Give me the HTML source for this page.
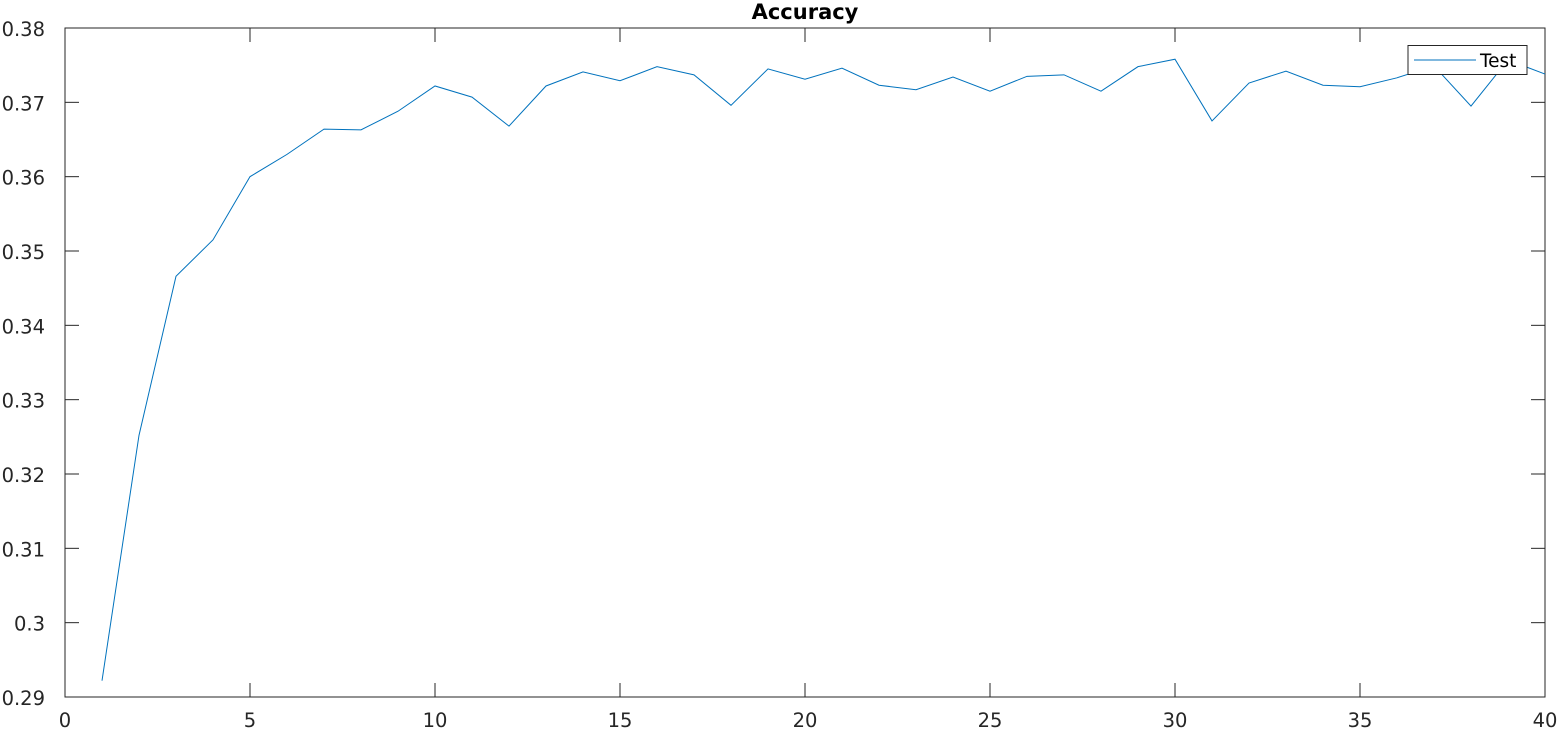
<!DOCTYPE html>
<html><head><meta charset="utf-8"><style>
html,body{margin:0;padding:0;background:#fff;}
svg{display:block;font-family:"DejaVu Sans","Liberation Sans",sans-serif;}
</style></head><body>
<svg id="chart" width="1560" height="729"></svg>
<script>
const xValues = [1,2,3,4,5,6,7,8,9,10,11,12,13,14,15,16,17,18,19,20,21,22,23,24,25,26,27,28,29,30,31,32,33,34,35,36,37,38,39,40];
const testAccuracy = [0.2922,0.3252,0.3466,0.3515,0.3600,0.3630,0.3664,0.3663,0.3688,0.3722,0.3707,0.3668,0.3722,0.3741,0.3729,0.3748,0.3737,0.3696,0.3745,0.3731,0.3746,0.3723,0.3717,0.3734,0.3715,0.3735,0.3737,0.3715,0.3748,0.3758,0.3675,0.3726,0.3742,0.3723,0.3721,0.3733,0.3749,0.3695,0.3757,0.3738];
const xTicks = [0,5,10,15,20,25,30,35,40];
const yTicks = [0.29,0.30,0.31,0.32,0.33,0.34,0.35,0.36,0.37,0.38];
const yTickLabels = ["0.29","0.3","0.31","0.32","0.33","0.34","0.35","0.36","0.37","0.38"];

const NS="http://www.w3.org/2000/svg";
const svg=document.getElementById('chart');
const L=65,R=1545,T=28,B=697;
const xMin=0,xMax=40,yMin=0.29,yMax=0.38;
function sx(v){return L+(v-xMin)/(xMax-xMin)*(R-L);}
function sy(v){return B-(v-yMin)/(yMax-yMin)*(B-T);}
function mk(tag,attrs){const e=document.createElementNS(NS,tag);for(const k in attrs)e.setAttribute(k,attrs[k]);svg.appendChild(e);return e;}

let e=mk('rect',{x:L,y:T,width:R-L,height:B-T,fill:'#fff',stroke:'#262626','stroke-width':1});



xTicks.forEach(t=>{
  const x=sx(t);
  let a=mk('line',{x1:x,x2:x,y1:B,y2:B-14,stroke:'#262626'});
  
  
  let b=mk('line',{x1:x,x2:x,y1:T,y2:T+14,stroke:'#262626'});
  
  
  let tx=mk('text',{x:x,y:727,'text-anchor':'middle','font-size':19.5,fill:'#262626'});
  tx.textContent=t;
  
  
});
yTicks.forEach((t,i)=>{
  const y=sy(t);
  let a=mk('line',{x1:L,x2:L+14,y1:y,y2:y,stroke:'#262626'});
  
  
  let b=mk('line',{x1:R,x2:R-14,y1:y,y2:y,stroke:'#262626'});
  
  
  let tx=mk('text',{x:L-20,y:y+8,'text-anchor':'end','font-size':19.5,fill:'#262626'});
  tx.textContent=yTickLabels[i];
  
  
});

const pts=xValues.map((x,i)=>sx(x)+','+sy(testAccuracy[i])).join(' ');
let line=mk('polyline',{points:pts,fill:'none',stroke:'#0072bd','stroke-width':1});



let title=mk('text',{x:805,y:19,'text-anchor':'middle','font-size':21,'font-weight':'bold',fill:'#000'});
title.textContent='Accuracy';



let lg=mk('rect',{x:1408,y:45.5,width:119,height:29,fill:'#fff',stroke:'#262626','stroke-width':1});


let ll=mk('line',{x1:1414,x2:1476,y1:60,y2:60,stroke:'#0072bd'});


let lt=mk('text',{x:1480,y:67,'font-size':18.5,fill:'#000'});
lt.textContent='Test';


</script>
</body></html>
